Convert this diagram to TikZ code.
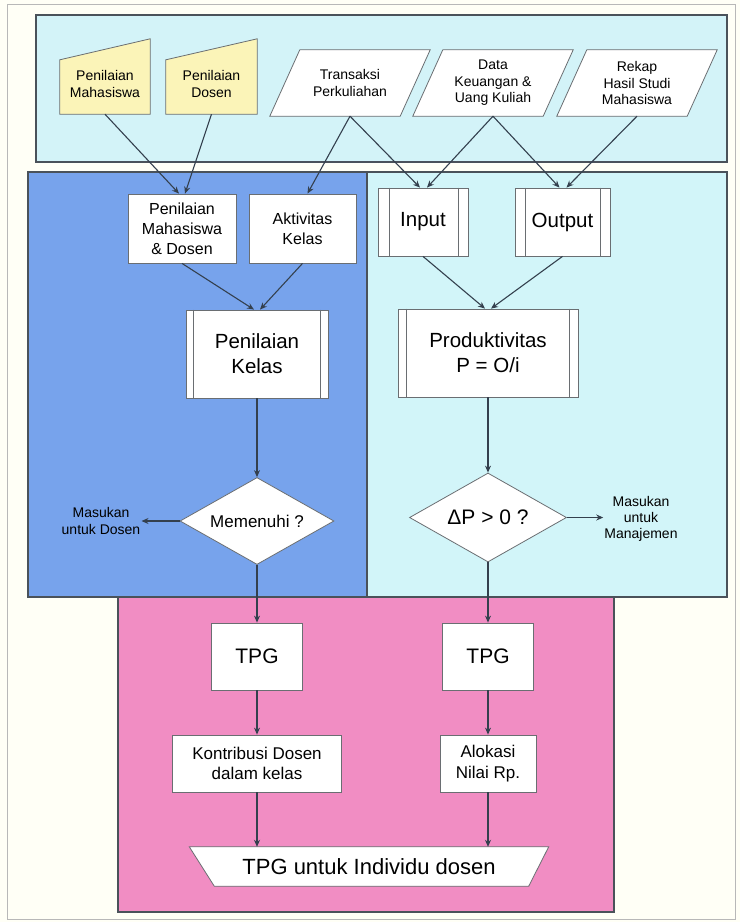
\documentclass[tikz,border=0pt]{standalone}
\usepackage{fontspec}
\setmainfont{Liberation Sans}
\usetikzlibrary{shapes.geometric,arrows.meta,calc}
\definecolor{bgc}{HTML}{FFFFF6}
\definecolor{topc}{HTML}{D3F3F8}
\definecolor{bluec}{HTML}{77A3EC}
\definecolor{cyanc}{HTML}{D2F5F9}
\definecolor{pinkc}{HTML}{F18DC3}
\definecolor{yelc}{HTML}{FBF4B8}
\definecolor{linec}{HTML}{34404E}
\definecolor{edgec}{HTML}{4A525A}
\definecolor{boxc}{HTML}{6A6E72}
\definecolor{framec}{HTML}{B8B8B8}
\newcommand\fsz[2]{\fontsize{#1}{#2}\selectfont}
\newcommand\predefl[3]{\draw[boxc,line width=0.8pt] ($(#1.north west)+(#2,0)$) -- ($(#1.south west)+(#2,0)$) ($(#1.north east)+(-#3,0)$) -- ($(#1.south east)+(-#3,0)$);}
\pgfdeclarelayer{back}
\pgfdeclarelayer{mid}
\pgfsetlayers{back,mid,main}
\begin{document}
\begin{tikzpicture}[x=1pt,y=-1pt,
  panel/.style={draw=edgec,line width=1.3pt},
  box/.style={draw=boxc,fill=white,line width=0.8pt,align=center,inner sep=2pt},
  txt/.style={align=center,inner sep=1pt},
  shapeline/.style={draw=boxc,line width=0.8pt},
  decision/.style={diamond,draw=boxc,fill=white,line width=0.8pt,aspect=2,inner sep=0pt,align=center},
  conn/.style={draw=linec,line width=1.1pt,-{Stealth[length=7pt,width=6pt]}}
]
\useasboundingbox (0,0) rectangle (740,922);
\begin{pgfonlayer}{back}
\fill[bgc] (0,0) rectangle (740,922);
\draw[framec,line width=0.8pt] (7,4) rectangle (735,919);
\draw[panel,fill=topc] (36,15) rectangle (727,162);
\draw[panel,fill=bluec] (28,172) rectangle (367,597);
\draw[panel,fill=cyanc] (367,172) rectangle (727,597);
\draw[panel,fill=pinkc] (118,597) rectangle (614,912);
\end{pgfonlayer}

% top inputs
\node[txt,font=\fsz{14}{17},minimum width=90pt,minimum height=60pt] (pm) at (105,84) {Penilaian\\Mahasiswa};
\node[txt,font=\fsz{14}{17},minimum width=91pt,minimum height=60pt] (pd) at (211.5,84) {Penilaian\\Dosen};
\node[txt,font=\fsz{14}{17},minimum width=130pt,minimum height=66pt] (tr) at (350,83) {Transaksi\\Perkuliahan};
\node[txt,font=\fsz{14}{16.5},minimum width=130pt,minimum height=66pt] (dk) at (493,83) {Data\\Keuangan \&\\Uang Kuliah};
\node[txt,font=\fsz{14}{16.5},minimum width=130pt,minimum height=66pt] (rk) at (637,83) {Rekap\\Hasil Studi\\Mahasiswa};

% middle boxes
\node[box,font=\fsz{16}{20},minimum width=108pt,minimum height=69pt] (mdb) at (182,228.5) {Penilaian\\Mahasiswa\\\& Dosen};
\node[box,font=\fsz{16}{20},minimum width=107pt,minimum height=69pt] (akt) at (302.5,228.5) {Aktivitas\\Kelas};
\node[box,font=\fsz{20.5}{25},minimum width=142pt,minimum height=88pt] (pk) at (257,354) {Penilaian\\Kelas};
\node[box,font=\fsz{20.5}{25},minimum width=90pt,minimum height=68pt] (inp) at (423,222) {Input};
\node[box,font=\fsz{20.5}{25},minimum width=95pt,minimum height=68pt] (outp) at (562.5,222) {Output};
\node[box,font=\fsz{20.5}{25},minimum width=180pt,minimum height=88pt] (prod) at (488,353) {Produktivitas\\P = O/i};
\predefl{pk}{8}{8}
\predefl{inp}{12}{10}
\predefl{outp}{11}{10}
\predefl{prod}{9}{9}

% decisions
\node[decision,font=\fsz{17}{20},minimum width=154pt,minimum height=87pt] (mem) at (257,521) {Memenuhi ?};
\node[decision,font=\fsz{21}{24},minimum width=157pt,minimum height=89pt] (dp) at (488,517.5) {ΔP > 0 ?};
\node[txt,font=\fsz{14}{17}] (mdo) at (101,521) {Masukan\\untuk Dosen};
\node[txt,font=\fsz{14}{16}] (mma) at (641,519) {Masukan\\untuk\\Manajemen};

% bottom
\node[box,font=\fsz{21}{25},minimum width=91pt,minimum height=67pt] (tpgl) at (257,656.5) {TPG};
\node[box,font=\fsz{21}{25},minimum width=91pt,minimum height=67pt] (tpgr) at (488,656.5) {TPG};
\node[box,font=\fsz{17}{20.5},minimum width=169pt,minimum height=57pt] (kon) at (257,763.5) {Kontribusi Dosen\\dalam kelas};
\node[box,font=\fsz{17}{20.5},minimum width=96pt,minimum height=57pt] (alo) at (488,763.5) {Alokasi\\Nilai Rp.};
\node[txt,font=\fsz{22}{26},minimum width=359pt,minimum height=39pt] (trap) at (369,866.5) {TPG untuk Individu dosen};

\begin{pgfonlayer}{mid}
\draw[shapeline,fill=yelc] (pm.south west) -- (pm.south east) -- ($(pm.north east)+(0,-15)$) -- ($(pm.north west)+(0,6)$) -- cycle;
\draw[shapeline,fill=yelc] (pd.south west) -- (pd.south east) -- ($(pd.north east)+(0,-15)$) -- ($(pd.north west)+(0,6)$) -- cycle;
\foreach \n in {tr,dk,rk}{
  \draw[shapeline,fill=white] ($(\n.south west)+(-15,0)$) -- ($(\n.south east)+(-15,0)$) -- ($(\n.north east)+(15,0)$) -- ($(\n.north west)+(15,0)$) -- cycle;
}
\draw[shapeline,fill=white] (trap.north west) -- (trap.north east) -- ($(trap.south east)+(-20,0)$) -- ($(trap.south west)+(25,0)$) -- cycle;
\end{pgfonlayer}

% connectors
\draw[conn] (pm.south) -- ($(mdb.north)+(-3,0)$);
\draw[conn] (pd.south) -- ($(mdb.north)+(3,0)$);
\draw[conn] (tr.south) -- ($(akt.north)+(5,0)$);
\draw[conn] (tr.south) -- ($(inp.north)+(-3,0)$);
\draw[conn] (dk.south) -- ($(inp.north)+(4,0)$);
\draw[conn] (dk.south) -- ($(outp.north)+(-3,0)$);
\draw[conn] (rk.south) -- ($(outp.north)+(4,0)$);
\draw[conn] (mdb.south) -- ($(pk.north)+(-3,0)$);
\draw[conn] (akt.south) -- ($(pk.north)+(3,0)$);
\draw[conn] (inp.south) -- ($(prod.north)+(-3,0)$);
\draw[conn] (outp.south) -- ($(prod.north)+(3,0)$);
\draw[conn] (pk.south) -- (mem.north);
\draw[conn] (prod.south) -- (dp.north);
\draw[conn] (mem.west) -- (mem.west -| mdo.east);
\draw[conn] (dp.east) -- (dp.east -| mma.west);
\draw[conn] (mem.south) -- (tpgl.north);
\draw[conn] (dp.south) -- (tpgr.north);
\draw[conn] (tpgl.south) -- (kon.north);
\draw[conn] (tpgr.south) -- (alo.north);
\draw[conn] (kon.south) -- (kon.south |- trap.north);
\draw[conn] (alo.south) -- (alo.south |- trap.north);
\end{tikzpicture}
\end{document}
